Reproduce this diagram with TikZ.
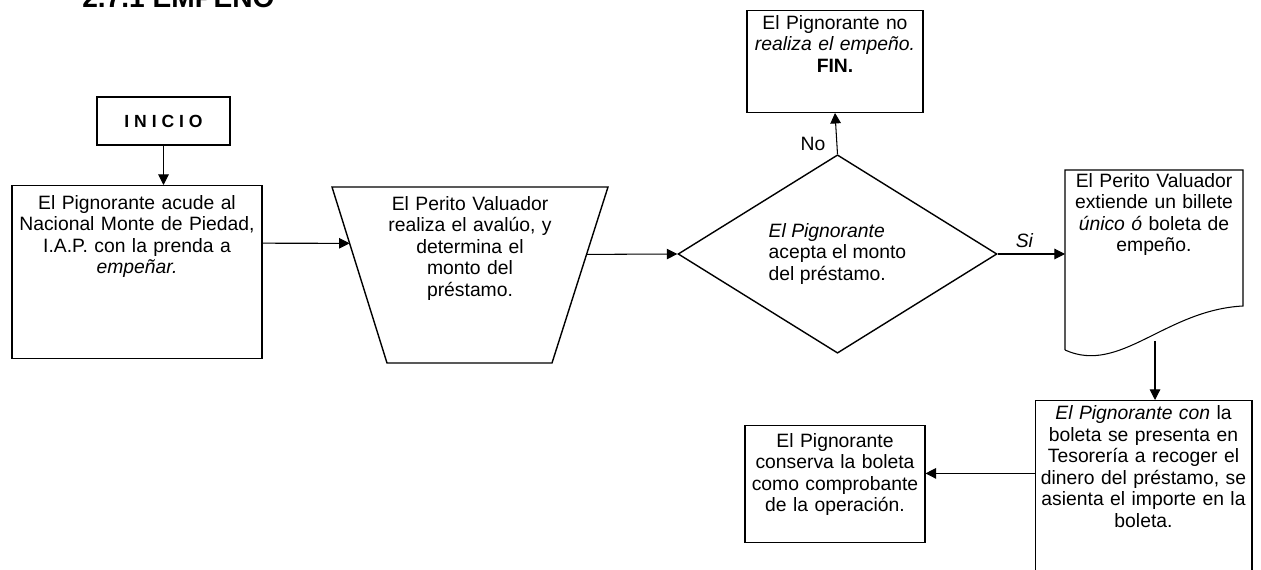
\documentclass[tikz,border=0pt]{standalone}
\usepackage{fontspec}
\setmainfont{Liberation Sans}
\usetikzlibrary{arrows.meta,shapes.geometric,calc}

\tikzset{
  caja/.style={draw, line width=0.6pt, anchor=north, align=center, inner xsep=0pt, text height=8pt},
  flecha/.style={line width=0.6pt, -{Triangle[length=6pt,width=6pt]}},
}

\begin{document}
\begin{tikzpicture}[x=0.02cm, y=-0.02cm, font=\fontsize{11}{12.2}\selectfont]
\useasboundingbox (0,0) rectangle (1261,570);

\node[font=\bfseries\fontsize{16}{18}\selectfont, anchor=base west, inner sep=0pt] (titulo) at (82,8) {2.7.1 EMPEÑO};

\node[draw, line width=0.6pt, minimum width=2.66cm, minimum height=0.96cm, font=\bfseries\addfontfeature{LetterSpace=28}] (ini) at (163.5,121) {INICIO};

\node[caja, text width=5cm, inner ysep=5.6pt, text depth=2.78cm] (b1) at (137,185)
  {El Pignorante acude al\\ Nacional Monte de Piedad,\\ I.A.P. con la prenda a\\ \textit{empeñar.}};

% trapecio del perito
\coordinate (tl) at (332,187);
\coordinate (tr) at (608,187);
\coordinate (bl) at (387,363);
\coordinate (br) at (552,363);
\draw[line width=0.8pt] (tl) -- (tr) -- (br) -- (bl) -- cycle;
\node[anchor=north, align=center, text width=4cm, inner sep=0pt, text height=8pt] (trap) at (470,196)
  {El Perito Valuador\\ realiza el avalúo, y\\ determina el\\ monto del\\ préstamo.};

\node[draw, diamond, line width=0.8pt, minimum width=6.38cm, minimum height=3.16cm, inner sep=0pt, align=left] (dec) at (837.5,254)
  {\textit{El Pignorante}\\ acepta el monto\\ del préstamo.};

\node[caja, text width=3.52cm, inner ysep=2.8pt, text depth=1.56cm] (fin) at (835,10)
  {El Pignorante no\\ \textit{realiza el empeño.}\\ \textbf{FIN.}};

% documento (boleta)
\coordinate (dtl) at (1065,170);
\coordinate (dtr) at (1243,170);
\coordinate (dbr) at (1243,306);
\coordinate (dbl) at (1065,350);
\draw[line width=0.6pt] (dbl) -- (dtl) -- (dtr) -- (dbr) .. controls (1165,310) and (1120,375) .. (dbl);
\node[anchor=north, align=center, text width=3.5cm, inner sep=0pt, text height=8pt] (doc) at (1154,173)
  {El Perito Valuador\\ extiende un billete\\ \textit{único ó} boleta de\\ empeño.};
\coordinate (docb) at (1155,341);

\node[caja, text width=4.34cm, inner ysep=3pt, text depth=2.95cm] (lr) at (1143.5,400)
  {\textit{El Pignorante con} la\\ boleta se presenta en\\ Tesorería a recoger el\\ dinero del préstamo, se\\ asienta el importe en la\\ boleta.};

\node[caja, text width=3.6cm, inner ysep=4.5pt, text depth=1.74cm] (ll) at (835,425)
  {El Pignorante\\ conserva la boleta\\ como comprobante\\ de la operación.};

% conectores
\draw[flecha] (ini.south) -- (ini.south |- b1.north);
\draw[flecha] ($(b1.north east)!0.335!(b1.south east)$) -- ($(tl)!0.32!(bl)$);
\draw[flecha] ($(tr)!0.383!(br)$) -- (dec.west);
\draw[flecha] (dec.north) -- node[pos=0.24, left=3pt] (no) {No} (fin.south);
\draw[flecha] (dec.east) -- node[pos=0.4, above] (si) {\textit{Si}} (dec.east -| dtl);
\draw[flecha] (docb) -- (docb |- lr.north);
\draw[flecha] ($(lr.north west)!0.424!(lr.south west)$) coordinate (lrw) -- (lrw -| ll.east);

\end{tikzpicture}
\end{document}
